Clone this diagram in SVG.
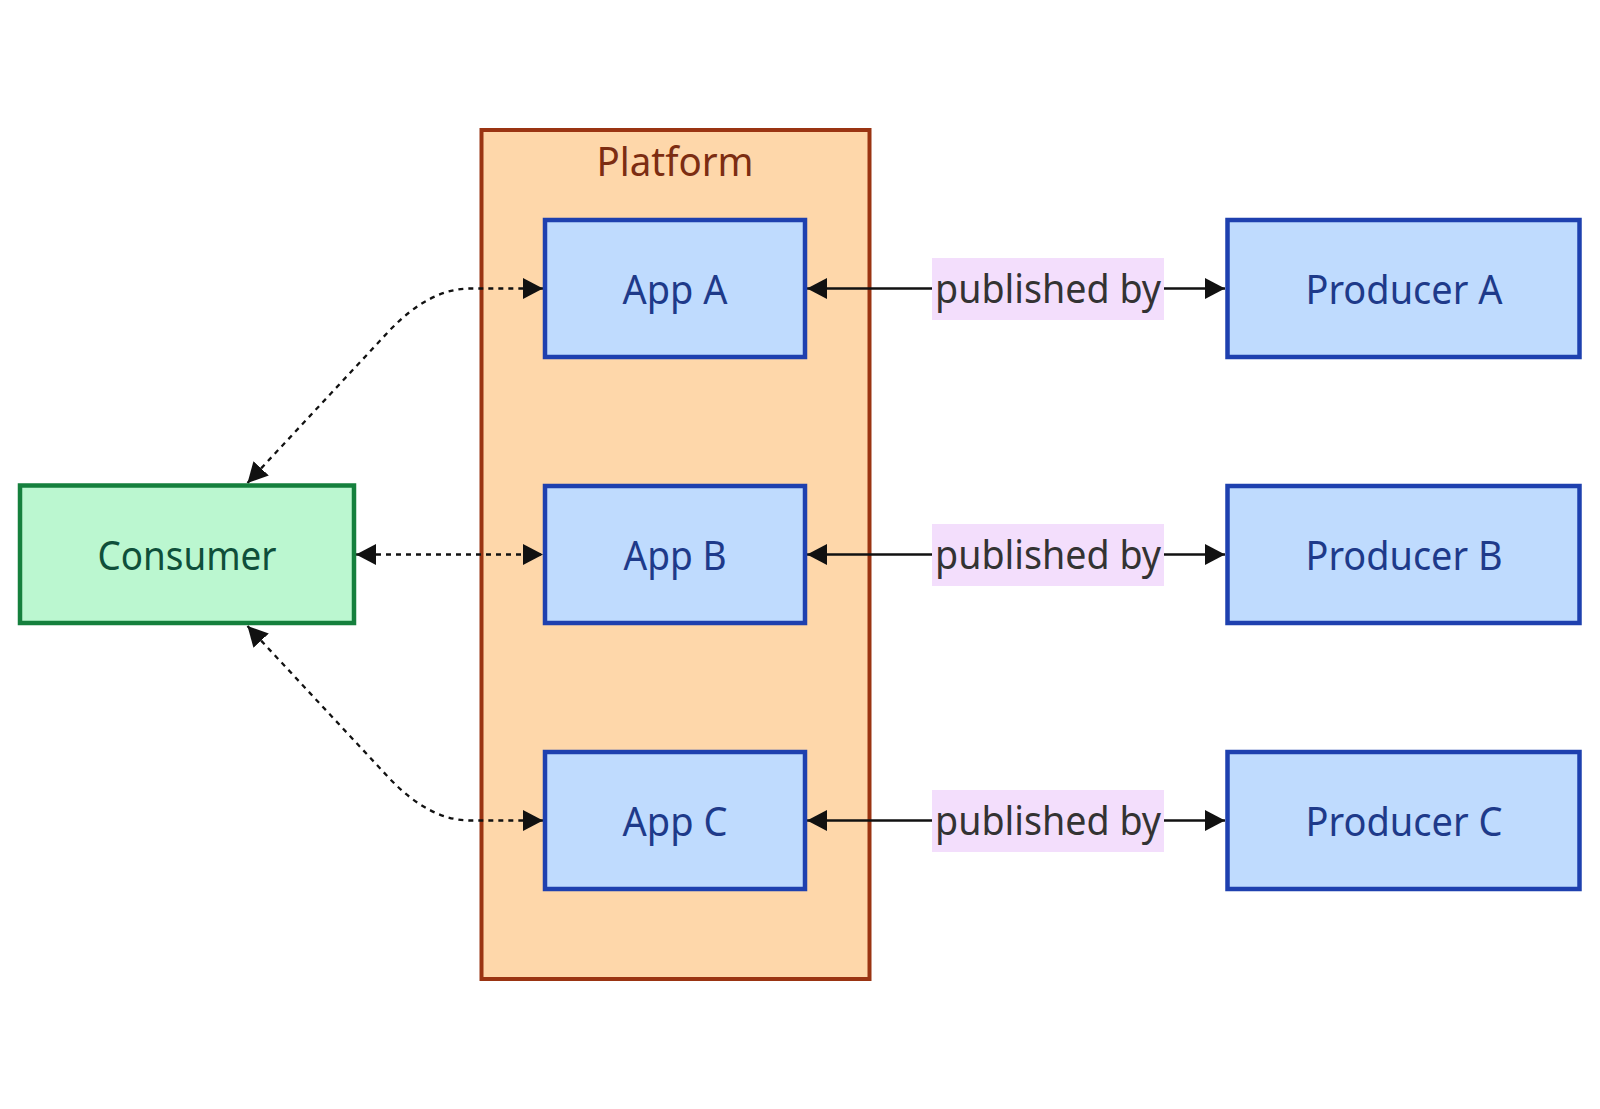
<svg xmlns="http://www.w3.org/2000/svg" width="1600" height="1109" viewBox="0 0 1600 1109">
  <defs>
    <marker id="arrow" markerUnits="userSpaceOnUse" markerWidth="20" markerHeight="21" viewBox="0 0 20 21" refX="20" refY="10.5" orient="auto-start-reverse">
      <path d="M0,0 L20,10.5 L0,21 z" fill="#111"/>
    </marker>
    <style>
      text { font-family: "Noto Sans", "DejaVu Sans", sans-serif; font-size: 40px; text-anchor: middle; }
      .cluster rect { fill: #fed7aa; stroke: #9a3412; stroke-width: 4; }
      .cluster text { fill: #7c2d12; }
      .app rect { fill: #bfdbfe; stroke: #1e40af; stroke-width: 4.5; }
      .app text { fill: #1e3a8a; }
      .consumer rect { fill: #bbf7d0; stroke: #15803d; stroke-width: 4.5; }
      .consumer text { fill: #0f4f3a; }
      .edge { fill: none; stroke: #111; stroke-width: 2.3; marker-start: url(#arrow); marker-end: url(#arrow); }
      .dotted { stroke-dasharray: 5 5; }
      .lbl rect { fill: #f3defc; }
      .lbl text { fill: #333; }
    </style>
  </defs>
  <rect width="1600" height="1109" fill="#ffffff"/>

  <g id="Platform" class="cluster">
    <rect x="481.5" y="130" width="388" height="849"/>
    <text x="675" y="175.5" textLength="157" lengthAdjust="spacingAndGlyphs">Platform</text>
  </g>

  <g id="connectors">
    <path class="edge dotted" d="M247.5,483 L390,330 Q430,288.5 470,288.5 L543,288.5"/>
    <path class="edge dotted" d="M356,554.5 L543,554.5"/>
    <path class="edge dotted" d="M247.5,626 L390,779 Q430,820.5 470,820.5 L543,820.5"/>
    <path class="edge" d="M807,288.5 L1225,288.5"/>
    <path class="edge" d="M807,554.5 L1225,554.5"/>
    <path class="edge" d="M807,820.5 L1225,820.5"/>
    <g class="lbl">
      <rect x="932" y="258" width="232" height="62"/>
      <text x="1048" y="302.5" textLength="226" lengthAdjust="spacingAndGlyphs">published by</text>
    </g>
    <g class="lbl">
      <rect x="932" y="524" width="232" height="62"/>
      <text x="1048" y="568.5" textLength="226" lengthAdjust="spacingAndGlyphs">published by</text>
    </g>
    <g class="lbl">
      <rect x="932" y="790" width="232" height="62"/>
      <text x="1048" y="834.5" textLength="226" lengthAdjust="spacingAndGlyphs">published by</text>
    </g>
  </g>

  <g id="Consumer" class="consumer">
    <rect x="20" y="485.5" width="334" height="137.5"/>
    <text x="187" y="569.5" textLength="179" lengthAdjust="spacingAndGlyphs">Consumer</text>
  </g>

  <g id="AppA" class="app">
    <rect x="545" y="220" width="260" height="137"/>
    <text x="675" y="304" textLength="105" lengthAdjust="spacingAndGlyphs">App A</text>
  </g>
  <g id="AppB" class="app">
    <rect x="545" y="486" width="260" height="137"/>
    <text x="675" y="570" textLength="103" lengthAdjust="spacingAndGlyphs">App B</text>
  </g>
  <g id="AppC" class="app">
    <rect x="545" y="752" width="260" height="137"/>
    <text x="675" y="836" textLength="105" lengthAdjust="spacingAndGlyphs">App C</text>
  </g>

  <g id="ProducerA" class="app">
    <rect x="1227.5" y="220" width="352" height="137"/>
    <text x="1404" y="303.5" textLength="197" lengthAdjust="spacingAndGlyphs">Producer A</text>
  </g>
  <g id="ProducerB" class="app">
    <rect x="1227.5" y="486" width="352" height="137"/>
    <text x="1404" y="569.5" textLength="197" lengthAdjust="spacingAndGlyphs">Producer B</text>
  </g>
  <g id="ProducerC" class="app">
    <rect x="1227.5" y="752" width="352" height="137"/>
    <text x="1404" y="835.5" textLength="197" lengthAdjust="spacingAndGlyphs">Producer C</text>
  </g>
</svg>
